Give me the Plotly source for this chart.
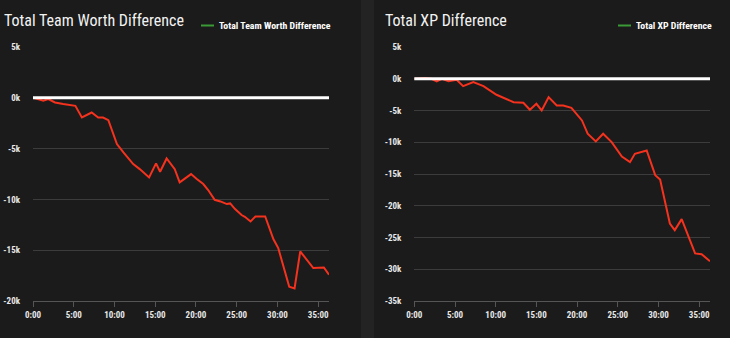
import plotly.graph_objects as go

# ---------------- data ----------------
worth_minutes = [0, 1.27, 1.88, 2.7, 3.7, 4.5, 5.2, 6.0, 7.2, 8.0, 8.6, 9.25, 10.3, 11.1, 12.3, 13.1,
                 14.25, 15.1, 15.6, 16.4, 17.4, 18.0, 19.4, 20.1, 20.9, 21.5, 22.3, 23.0, 23.8, 24.2,
                 24.8, 25.6, 26.0, 26.7, 27.3, 28.5, 29.5, 30.1, 31.45, 32.1, 32.8, 34.4, 35.7, 36.33]
worth_values = [0, -295, -130, -460, -620, -720, -790, -1940, -1450, -1940, -1940, -2200, -4560, -5380,
                -6520, -7020, -7840, -6460, -7280, -5970, -7020, -8330, -7510, -8000, -8490, -9080,
                -10040, -10200, -10460, -10400, -10950, -11540, -11710, -12170, -11680, -11680,
                -13900, -14790, -18600, -18760, -15120, -16760, -16700, -17420]

xp_minutes = [0, 1.3, 2.1, 2.75, 3.4, 4.2, 5.2, 6.0, 7.25, 8.5, 10.1, 12.2, 13.4, 14.2, 15.0, 15.65,
              16.5, 17.5, 18.3, 19.3, 20.6, 21.3, 22.3, 23.2, 24.25, 25.5, 26.5, 27.1, 28.55, 29.4,
              29.6, 30.2, 31.4, 32.0, 32.85, 34.5, 35.3, 36.33]
xp_values = [0, 100, 0, -425, 0, -380, -160, -1160, -535, -1160, -2520, -3690, -3780, -4880, -3940,
             -4990, -2900, -4200, -4200, -4570, -6570, -8660, -9870, -8660, -9980, -12240, -13130,
             -11810, -11290, -14170, -15180, -15860, -22790, -23840, -22110, -27510, -27620, -28730]

x_tick_vals = [0, 5, 10, 15, 20, 25, 30, 35]
x_tick_text = ["0:00", "5:00", "10:00", "15:00", "20:00", "25:00", "30:00", "35:00"]
worth_tick_vals = [5000, 0, -5000, -10000, -15000, -20000]
worth_tick_text = ["5k", "0k", "-5k", "-10k", "-15k", "-20k"]
xp_tick_vals = [5000, 0, -5000, -10000, -15000, -20000, -25000, -30000, -35000]
xp_tick_text = ["5k", "0k", "-5k", "-10k", "-15k", "-20k", "-25k", "-30k", "-35k"]

titles = ["Total Team Worth Difference", "Total XP Difference"]

# ---------------- styling ----------------
BG = "#1b1b1b"
STRIP = "#232323"
GRID = "#3c3c3c"
RED = "#f5321e"
GREEN = "#3a9a35"
COND = "Roboto Condensed, Liberation Sans Narrow, sans-serif"
W, H = 730, 338

fig = go.Figure()
fig.add_trace(go.Scatter(x=worth_minutes, y=worth_values, mode="lines",
                         line=dict(color=RED, width=2), xaxis="x", yaxis="y",
                         showlegend=False, hoverinfo="skip"))
fig.add_trace(go.Scatter(x=xp_minutes, y=xp_values, mode="lines",
                         line=dict(color=RED, width=2), xaxis="x2", yaxis="y2",
                         showlegend=False, hoverinfo="skip"))

ydom = [1 - 301 / H, 1 - 47 / H]
xdom1 = [33 / W, 329 / W]
xdom2 = [414.3 / W, 710 / W]

tickfont = dict(family=COND, size=9, color="#e8e8e8", weight="bold")
xaxis_common = dict(range=[0, 36.33], tickvals=x_tick_vals, ticktext=x_tick_text,
                    showgrid=False, zeroline=False, showline=True, linecolor="#555555",
                    linewidth=1, ticks="outside", ticklen=5, tickcolor="#555555",
                    tickfont=tickfont, fixedrange=True, automargin=False)
yaxis_common = dict(showgrid=True, gridcolor=GRID, gridwidth=1, zeroline=False,
                    showline=False, ticks="", ticklabelstandoff=12, tickfont=tickfont,
                    fixedrange=True, automargin=False)

fig.update_layout(
    width=W, height=H,
    margin=dict(l=0, r=0, t=0, b=0),
    paper_bgcolor=BG, plot_bgcolor=BG,
    xaxis=dict(domain=xdom1, anchor="y", **xaxis_common),
    yaxis=dict(domain=ydom, anchor="x", range=[-20000, 5000],
               tickvals=worth_tick_vals, ticktext=worth_tick_text, **yaxis_common),
    xaxis2=dict(domain=xdom2, anchor="y2", **xaxis_common),
    yaxis2=dict(domain=ydom, anchor="x2", range=[-35000, 5000],
                tickvals=xp_tick_vals, ticktext=xp_tick_text, **yaxis_common),
    showlegend=False,
)

# panel divider strip
fig.add_shape(type="rect", xref="paper", yref="paper", x0=361 / W, x1=374 / W, y0=0, y1=1,
              fillcolor=STRIP, line=dict(width=0), layer="below")

# zero reference lines (drawn above the data)
for xr, yr in (("x", "y"), ("x2", "y2")):
    fig.add_shape(type="line", xref=f"{xr} domain", yref=yr, x0=0, x1=1, y0=0, y1=0,
                  line=dict(color="white", width=3), layer="above")

# titles
title_x = [2, 382.5]
for t, tx in zip(titles, title_x):
    fig.add_annotation(text=t, xref="paper", yref="paper", x=tx / W, y=1 - 21 / H,
                       xanchor="left", yanchor="middle", showarrow=False,
                       font=dict(family=COND, size=16, color="#f2f2f2"))

# legends (short green line + bold label)
leg_line = [(201, 214), (618, 631)]
leg_text_x = [216.5, 633.5]
for t, (l0, l1), lx in zip(titles, leg_line, leg_text_x):
    fig.add_shape(type="line", xref="paper", yref="paper", x0=l0 / W, x1=l1 / W,
                  y0=1 - 25.5 / H, y1=1 - 25.5 / H, line=dict(color=GREEN, width=2))
    fig.add_annotation(text=f"<b>{t}</b>", xref="paper", yref="paper", x=lx / W,
                       y=1 - 25.5 / H, xanchor="left", yanchor="middle", showarrow=False,
                       font=dict(family=COND, size=9.8, color="#ffffff"))

fig.write_html("out.html")
